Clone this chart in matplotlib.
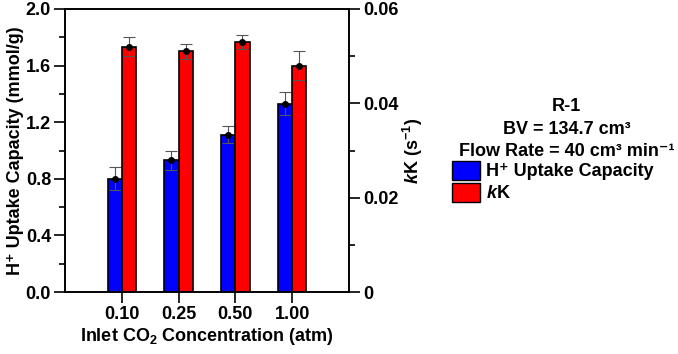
import numpy as np
import matplotlib
matplotlib.use("Agg")
import matplotlib.pyplot as plt
from matplotlib.patches import Patch

# data
conc_labels = ["0.10", "0.25", "0.50", "1.00"]
uptake = [0.80, 0.93, 1.11, 1.33]       # mmol/g
uptake_err = [0.08, 0.07, 0.06, 0.08]
kK = [0.052, 0.051, 0.053, 0.048]       # s^-1
kK_err = [0.002, 0.0016, 0.0014, 0.003]

fs = 13
plt.rcParams['font.family'] = ['Liberation Sans', 'DejaVu Sans']
plt.rcParams['font.weight'] = 'bold'
plt.rcParams['axes.labelweight'] = 'bold'
plt.rcParams['font.size'] = fs
plt.rcParams['mathtext.fontset'] = 'custom'
plt.rcParams['mathtext.rm'] = 'Liberation Sans:bold'
plt.rcParams['mathtext.bf'] = 'Liberation Sans:bold'
plt.rcParams['mathtext.it'] = 'Liberation Sans:bold:italic'
plt.rcParams['mathtext.default'] = 'rm'

fig = plt.figure(figsize=(6.78, 3.54), dpi=100)
ax = fig.add_axes([0.0958, 0.1751, 0.4189, 0.7995])
ax2 = ax.twinx()

x = np.arange(len(conc_labels))
w = 0.25
ax.bar(x - w / 2, uptake, w, color='#0000ff', edgecolor='black', linewidth=1.2, zorder=2)
ax.errorbar(x - w / 2, uptake, yerr=uptake_err, fmt='o', color='black', ms=4,
            ecolor='#555555', elinewidth=0.8, capsize=4, capthick=0.8, zorder=3)
ax2.bar(x + w / 2, kK, w, color='#ff0000', edgecolor='black', linewidth=1.2, zorder=2)
ax2.errorbar(x + w / 2, kK, yerr=kK_err, fmt='o', color='black', ms=4,
             ecolor='#555555', elinewidth=0.8, capsize=4, capthick=0.8, zorder=3)

ax.set_xlim(-1, 4)
ax.set_ylim(0, 2.0)
ax2.set_ylim(0, 0.06)
ax.set_xticks(x)
ax.set_xticklabels(conc_labels)
ax.set_yticks(np.arange(0, 2.01, 0.4))
ax.set_yticks(np.arange(0, 2.01, 0.2), minor=True)
ax.set_yticklabels(["%.1f" % v for v in np.arange(0, 2.01, 0.4)])
ax2.set_yticks([0, 0.02, 0.04, 0.06])
ax2.set_yticklabels(["0", "0.02", "0.04", "0.06"])
ax2.set_yticks(np.arange(0, 0.061, 0.01), minor=True)

for a in (ax, ax2):
    a.tick_params(which='major', length=8, width=1.2, direction='out', pad=2)
    a.tick_params(which='minor', length=4, width=1.2, direction='out')
    for s in a.spines.values():
        s.set_linewidth(1.2)

ax.set_xlabel("Inlet CO$_2$ Concentration (atm)", labelpad=2)
ax.set_ylabel("H\u207a Uptake Capacity (mmol/g)", labelpad=1)
ax2.set_ylabel("$\\it{k}$K (s$^{-1}$)", labelpad=2)

# legend block
lx = 0.836
fig.text(lx, 0.698, "R-1", ha='center', va='center')
fig.text(lx, 0.633, "BV = 134.7 cm\u00b3", ha='center', va='center')
fig.text(lx, 0.573, "Flow Rate = 40 cm\u00b3 min\u207b\u00b9", ha='center', va='center')
handles = [Patch(facecolor='#0000ff', edgecolor='black', linewidth=1.0),
           Patch(facecolor='#ff0000', edgecolor='black', linewidth=1.0)]
fig.legend(handles, ["H\u207a Uptake Capacity", "$\\it{k}$K"], loc='upper left',
           bbox_to_anchor=(0.667, 0.545), frameon=False, handlelength=1.55,
           handleheight=1.2, labelspacing=0.15, handletextpad=0.3,
           borderpad=0, borderaxespad=0)

fig.savefig("out.png", dpi=100)
